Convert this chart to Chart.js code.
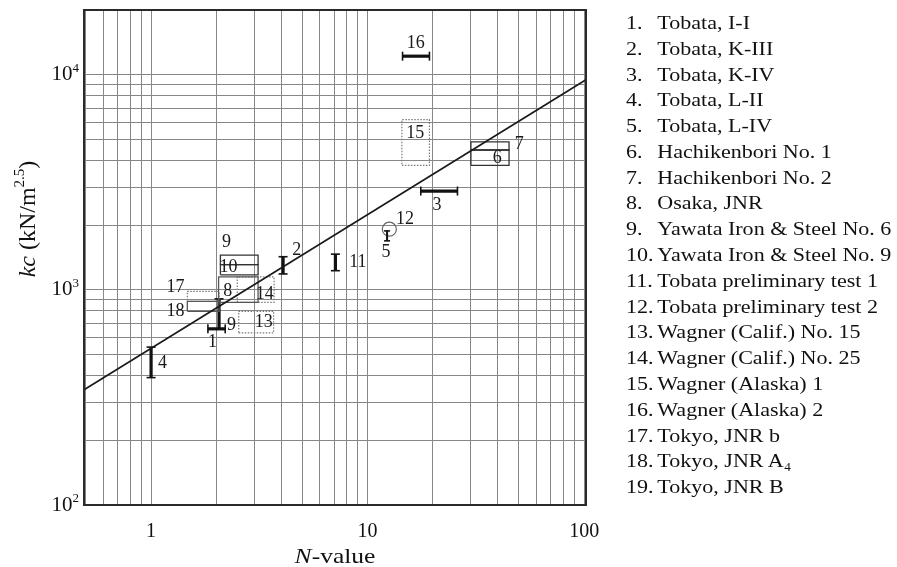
<!DOCTYPE html>
<html>
<head>
<meta charset="utf-8">
<script src="https://cdn.jsdelivr.net/npm/chart.js@4.4.1/dist/chart.umd.min.js"></script>
<style>
  html, body { margin: 0; padding: 0; background: #fff; }
  #wrap { position: relative; width: 897px; height: 567px; overflow: hidden; }
  #kcChart { position: absolute; left: 0; top: 0; }
  #siteList {
    position: absolute; left: 626px; top: 10px; margin: 0; padding: 0;
    list-style: none; font-family: 'Liberation Serif', serif; font-size: 19px;
    line-height: 25.78px; color: #111; white-space: nowrap;
    transform: scaleX(1.16); transform-origin: 0 0;
  }
  #siteList span { display: inline-block; min-width: 27px; }
</style>
</head>
<body>
<div id="wrap">
  <canvas id="kcChart" width="897" height="567"></canvas>
  <ul id="siteList"></ul>
</div>
<script>
// site list (right hand side)
const siteNames = [
  'Tobata, I-I', 'Tobata, K-III', 'Tobata, K-IV', 'Tobata, L-II', 'Tobata, L-IV',
  'Hachikenbori No. 1', 'Hachikenbori No. 2', 'Osaka, JNR',
  'Yawata Iron & Steel No. 6', 'Yawata Iron & Steel No. 9',
  'Tobata preliminary test 1', 'Tobata preliminary test 2',
  'Wagner (Calif.) No. 15', 'Wagner (Calif.) No. 25',
  'Wagner (Alaska) 1', 'Wagner (Alaska) 2',
  'Tokyo, JNR b', 'Tokyo, JNR A\u2084', 'Tokyo, JNR B'
];

// axes
const xTickValues = [1, 10, 100];
const xTickLabels = ['1', '10', '100'];
const yTickValues = [100, 1000, 10000];
const yTickExp = ['2', '3', '4'];

// fitted line kc - N
const trendN = [0.49, 102];
const trendKc = [343, 9480];

// vertical range bars (kc spread at one N)
const vBarIds = ['4', '2', '11', '5', '19'];
const vBarN = [1.0, 4.07, 7.1, 12.3, 2.06];
const vBarKcLow = [391, 1186, 1228, 1690, 659];
const vBarKcHigh = [542, 1426, 1466, 1880, 908];

// horizontal range bars (N spread at one kc)
const hBarIds = ['16', '3', '1'];
const hBarKc = [12200, 2880, 659];
const hBarNLow = [14.5, 17.6, 1.83];
const hBarNHigh = [19.3, 26, 2.2];

// boxes
const boxIds = ['9', '10', '7', '6', '8', '18', '15', '14', '13', '17'];
const boxNLow = [2.09, 2.09, 30, 30, 2.05, 1.47, 14.4, 2.5, 2.54, 1.47];
const boxNHigh = [3.12, 3.12, 45, 45, 3.12, 2.06, 19.3, 3.7, 3.68, 2.06];
const boxKcLow = [1309, 1175, 4470, 3790, 875, 795, 3790, 875, 631, 885];
const boxKcHigh = [1452, 1309, 4880, 4470, 1150, 885, 6190, 1150, 795, 985];

// single point (circle)
const circleN = [12.6];
const circleKc = [1915];

// number labels next to the marks
const labelText = ['16', '15', '7', '6', '3', '12', '5', '2', '11', '9', '10', '17', '8', '14', '18', '9', '13', '1', '4'];
const labelN = [16.7, 16.6, 50.2, 39.7, 20.9, 14.9, 12.15, 4.71, 9.02, 2.23, 2.28, 1.296, 2.26, 3.35, 1.296, 2.35, 3.31, 1.92, 1.13];
const labelKc = [13980, 5350, 4760, 4100, 2482, 2138, 1488, 1520, 1351, 1673, 1268, 1024, 981, 950, 793, 682, 705, 569, 455];

const dottedBoxes = ['15', '14', '13', '17'];
const greyBoxes = ['18', '17', '8'];
const thinBars = ['5'];

const serif = "'Liberation Serif', 'Times New Roman', serif";
const gridColor = '#878787';

document.getElementById('siteList').innerHTML = siteNames
  .map((s, i) => '<li><span>' + (i + 1) + '.</span>' + s.replace('&', '&amp;') + '</li>')
  .join('');

function logGrid(lo, hi) {
  const vals = [];
  for (let e = Math.floor(Math.log10(lo)); e <= Math.ceil(Math.log10(hi)); e++) {
    for (let m = 1; m <= 9; m++) {
      const v = +(m * Math.pow(10, e)).toPrecision(6);
      if (v >= lo && v <= hi) vals.push(v);
    }
  }
  return vals;
}
const xGrid = logGrid(0.5, 100);
const yGrid = logGrid(100, 10000);

const datasets = [];

datasets.push({
  data: trendN.map((n, i) => ({ x: n, y: trendKc[i] })),
  showLine: true, borderColor: '#1a1a1a', borderWidth: 1.8, pointRadius: 0
});

boxIds.forEach((id, i) => {
  const dotted = dottedBoxes.includes(id);
  datasets.push({
    data: [
      { x: boxNLow[i], y: boxKcLow[i] }, { x: boxNHigh[i], y: boxKcLow[i] },
      { x: boxNHigh[i], y: boxKcHigh[i] }, { x: boxNLow[i], y: boxKcHigh[i] },
      { x: boxNLow[i], y: boxKcLow[i] }
    ],
    showLine: true, pointRadius: 0,
    borderColor: dotted ? '#7a7a7a' : (greyBoxes.includes(id) ? '#555' : '#333'),
    borderWidth: dotted ? 1.2 : 1.3,
    borderDash: dotted ? [1.5, 1.5] : []
  });
});

vBarIds.forEach((id, i) => {
  const thin = thinBars.includes(id);
  datasets.push({
    data: [{ x: vBarN[i], y: vBarKcLow[i] }, { x: vBarN[i], y: vBarKcHigh[i] }],
    showLine: true, borderColor: '#111', borderWidth: thin ? 2 : 3.2,
    pointStyle: 'line', pointRadius: thin ? 3 : 4.5, pointBorderWidth: 1.6,
    pointBorderColor: '#111', pointRotation: 0
  });
});

hBarIds.forEach((id, i) => {
  datasets.push({
    data: [{ x: hBarNLow[i], y: hBarKc[i] }, { x: hBarNHigh[i], y: hBarKc[i] }],
    showLine: true, borderColor: '#111', borderWidth: 3.2,
    pointStyle: 'line', pointRadius: 4.5, pointBorderWidth: 1.6,
    pointBorderColor: '#111', pointRotation: 90
  });
});

datasets.push({
  data: circleN.map((n, i) => ({ x: n, y: circleKc[i] })),
  pointStyle: 'circle', pointRadius: 7, pointBorderWidth: 1.2,
  pointBorderColor: '#666', pointBackgroundColor: 'rgba(0,0,0,0)'
});

const markLabels = {
  id: 'markLabels',
  afterDatasetsDraw(chart) {
    const { ctx, scales: { x, y } } = chart;
    ctx.save();
    ctx.font = '18px ' + serif;
    ctx.fillStyle = '#1a1a1a';
    ctx.textAlign = 'center';
    ctx.textBaseline = 'middle';
    labelText.forEach((t, i) => {
      ctx.fillText(t, x.getPixelForValue(labelN[i]), y.getPixelForValue(labelKc[i]));
    });
    ctx.restore();
  }
};

const frameAndTitles = {
  id: 'frameAndTitles',
  afterDraw(chart) {
    const { ctx, chartArea: a, scales: { y } } = chart;
    ctx.save();
    ctx.strokeStyle = '#2a2a2a';
    ctx.lineWidth = 2;
    ctx.strokeRect(a.left, a.top, a.right - a.left, a.bottom - a.top);

    // y tick labels 10^n
    ctx.fillStyle = '#111';
    yTickValues.forEach((v, i) => {
      const py = y.getPixelForValue(v);
      ctx.font = '13px ' + serif;
      const ew = ctx.measureText(yTickExp[i]).width;
      const right = a.left - 5;
      ctx.textAlign = 'left';
      ctx.textBaseline = 'alphabetic';
      ctx.fillText(yTickExp[i], right - ew, py - 3);
      ctx.font = '21px ' + serif;
      ctx.textAlign = 'right';
      ctx.textBaseline = 'middle';
      ctx.fillText('10', right - ew, py);
    });

    // x title: N-value
    ctx.textBaseline = 'middle';
    ctx.textAlign = 'left';
    ctx.save();
    ctx.translate((a.left + a.right) / 2, 557);
    ctx.scale(1.16, 1);
    ctx.font = 'italic 22px ' + serif;
    const w1 = ctx.measureText('N').width;
    ctx.font = '22px ' + serif;
    const w2 = ctx.measureText('-value').width;
    const cx = -(w1 + w2) / 2;
    ctx.font = 'italic 22px ' + serif;
    ctx.fillText('N', cx, 0);
    ctx.font = '22px ' + serif;
    ctx.fillText('-value', cx + w1, 0);
    ctx.restore();

    // y title: kc (kN/m^2.5)
    const parts = [
      { t: 'kc', f: 'italic 24px ' + serif, dy: 0 },
      { t: ' (kN/m', f: '24px ' + serif, dy: 0 },
      { t: '2.5', f: '15px ' + serif, dy: -9 },
      { t: ')', f: '24px ' + serif, dy: 0 }
    ];
    let total = 0;
    parts.forEach(p => { ctx.font = p.f; p.w = ctx.measureText(p.t).width; total += p.w; });
    ctx.save();
    ctx.translate(29, 219);
    ctx.rotate(-Math.PI / 2);
    let px = -total / 2;
    parts.forEach(p => {
      ctx.font = p.f;
      ctx.fillText(p.t, px, p.dy);
      px += p.w;
    });
    ctx.restore();
    ctx.restore();
  }
};

new Chart(document.getElementById('kcChart'), {
  type: 'scatter',
  data: { datasets },
  options: {
    responsive: false,
    animation: false,
    layout: { padding: { top: 10, right: 311, bottom: 0, left: 0 } },
    plugins: { legend: { display: false }, tooltip: { enabled: false } },
    scales: {
      x: {
        type: 'logarithmic', min: 0.49, max: 102,
        afterBuildTicks: s => { s.ticks = xGrid.map(v => ({ value: v })); },
        afterFit: s => { s.height = 62; s.paddingLeft = 0; s.paddingRight = 0; },
        ticks: {
          autoSkip: false, maxRotation: 0, padding: 15, color: '#111',
          font: { family: serif, size: 20 },
          callback: v => { const i = xTickValues.indexOf(v); return i < 0 ? '' : xTickLabels[i]; }
        },
        grid: { color: gridColor, lineWidth: 1, drawTicks: false },
        border: { display: false }
      },
      y: {
        type: 'logarithmic', min: 100, max: 20000,
        afterBuildTicks: s => { s.ticks = yGrid.map(v => ({ value: v })); },
        afterFit: s => { s.width = 84; s.paddingTop = 0; s.paddingBottom = 0; },
        ticks: { display: false, autoSkip: false },
        grid: { color: gridColor, lineWidth: 1, drawTicks: false },
        border: { display: false }
      }
    }
  },
  plugins: [markLabels, frameAndTitles]
});
</script>
</body>
</html>
